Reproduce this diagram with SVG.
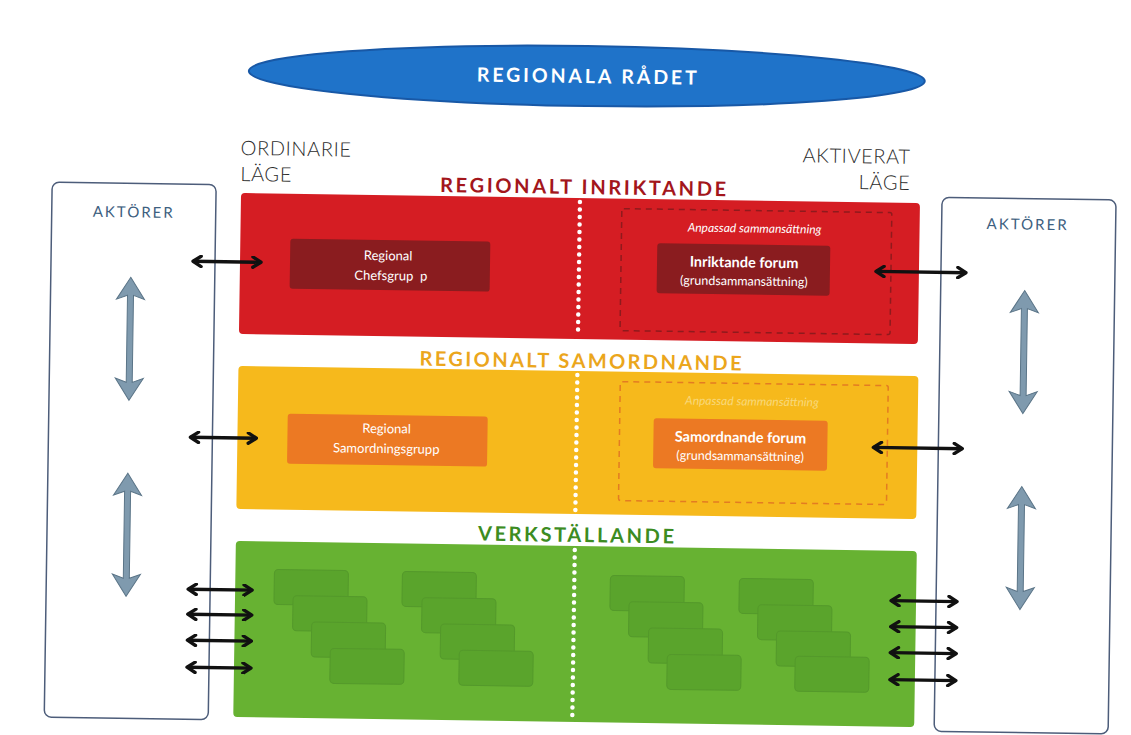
<svg xmlns="http://www.w3.org/2000/svg" width="1131" height="735" viewBox="0 0 1131 735">
<style>
text{font-family:Lato,"Open Sans","Liberation Sans",sans-serif}
.band-title{font-weight:bold;font-size:20px;text-anchor:middle}
.lage{font-size:20px;font-weight:300;fill:#2b2b2b;letter-spacing:0.6px}
.akt{font-size:15px;letter-spacing:2px;fill:#3d6080;text-anchor:middle}
.inner{font-size:13px;fill:#fff;text-anchor:middle}
.sub{font-size:12.5px}
.bold{font-weight:bold;font-size:14.5px}
.anp{font-size:12px;font-style:italic;text-anchor:middle}
.dots{stroke:#fff;stroke-width:4.5;stroke-dasharray:0 7.5;stroke-linecap:round;fill:none}
.harrow{stroke:#111;stroke-width:3.4;fill:none;marker-start:url(#chev);marker-end:url(#chev)}
.varrow{fill:#7f9aae;stroke:#5a7487;stroke-width:1}
.gr{fill:#5aa42c;stroke:#54992b;stroke-width:1}
.box{fill:#fff;stroke:#4d5d7a;stroke-width:1.5}
</style>
<defs>
<marker id="chev" viewBox="0 0 10 10" refX="8.5" refY="5" markerWidth="3.8" markerHeight="3.8" orient="auto-start-reverse" markerUnits="strokeWidth">
<path d="M2.2,1 L8.5,5 L2.2,9" fill="none" stroke="#111" stroke-width="2.6" stroke-linecap="round" stroke-linejoin="round"/>
</marker>
</defs>
<rect width="1131" height="735" fill="#fff"/>
<g transform="rotate(0.85 580 400)">
<g id="regionala-radet">
<ellipse cx="582" cy="76" rx="338" ry="30" fill="#1f73c9" stroke="#1858a6" stroke-width="2"/>
<text x="582" y="83" fill="#fff" font-weight="bold" font-size="19.5" text-anchor="middle" textLength="220" lengthAdjust="spacing">REGIONALA RÅDET</text>
</g>
<g id="labels">
<text class="lage" x="237" y="160">ORDINARIE</text>
<text class="lage" x="237" y="186">LÄGE</text>
<text class="lage" x="907" y="159" text-anchor="end">AKTIVERAT</text>
<text class="lage" x="907" y="185" text-anchor="end">LÄGE</text>
</g>
<g id="aktorer-left">
<rect class="box" x="49" y="190" width="164" height="535" rx="7"/>
<text class="akt" x="131" y="224">AKTÖRER</text>
</g>
<g id="aktorer-right">
<rect class="box" x="939" y="192" width="174" height="534" rx="7"/>
<text class="akt" x="1025" y="223">AKTÖRER</text>
</g>
<g id="inriktande">
<text class="band-title" x="580" y="194" fill="#a3161c" textLength="286" lengthAdjust="spacing">REGIONALT INRIKTANDE</text>
<rect x="238" y="198" width="679" height="141" rx="4" fill="#d51d23"/>
<line class="dots" x1="577" y1="202" x2="577" y2="337"/>
<rect x="619" y="208" width="270" height="122" rx="2" fill="none" stroke="#8f1a1d" stroke-width="1.5" stroke-dasharray="6 5"/>
<text class="anp" x="752" y="230" fill="#fff">Anpassad sammansättning</text>
</g>
<g id="chefsgrupp">
<rect x="288" y="243" width="200" height="50" rx="3" fill="#8a1c1f"/>
<text class="inner" x="386" y="263">Regional</text>
<text class="inner" x="389" y="283" xml:space="preserve">Chefsgrup  p</text>
</g>
<g id="inriktande-forum">
<rect x="655" y="242" width="173" height="50" rx="3" fill="#8a1c1f"/>
<text class="inner bold" x="742" y="265">Inriktande forum</text>
<text class="inner sub" x="742" y="283">(grundsammansättning)</text>
</g>
<g id="samordnande">
<text class="band-title" x="580" y="368" fill="#eba61c" textLength="322" lengthAdjust="spacing">REGIONALT SAMORDNANDE</text>
<rect x="238" y="371" width="680" height="143" rx="4" fill="#f6b91c"/>
<line class="dots" x1="577" y1="375" x2="577" y2="511"/>
<rect x="620" y="381" width="268" height="119" rx="2" fill="none" stroke="#e37c22" stroke-width="1.5" stroke-dasharray="6 5"/>
<text class="anp" x="752" y="403" fill="#f8d87a">Anpassad sammansättning</text>
</g>
<g id="samordningsgrupp">
<rect x="288" y="418" width="200" height="50" rx="3" fill="#ec7923"/>
<text class="inner" x="387" y="436">Regional</text>
<text class="inner" x="387" y="456">Samordningsgrupp</text>
</g>
<g id="samordnande-forum">
<rect x="654" y="417" width="174" height="50" rx="3" fill="#ec7923"/>
<text class="inner bold" x="741" y="440">Samordnande forum</text>
<text class="inner sub" x="741" y="458">(grundsammansättning)</text>
</g>
<g id="verkstallande">
<text class="band-title" x="578" y="542" fill="#3c8c22" textLength="196" lengthAdjust="spacing">VERKSTÄLLANDE</text>
<rect x="238" y="546" width="681" height="176" rx="4" fill="#67b232"/>
<line class="dots" x1="577" y1="550" x2="577" y2="719"/>
<g id="group-a">
<rect class="gr" x="277" y="574" width="74" height="35" rx="4"/>
<rect class="gr" x="296" y="600" width="74" height="35" rx="4"/>
<rect class="gr" x="315" y="626" width="74" height="35" rx="4"/>
<rect class="gr" x="334" y="652" width="74" height="35" rx="4"/>
</g>
<g id="group-b">
<rect class="gr" x="405" y="574" width="74" height="35" rx="4"/>
<rect class="gr" x="425" y="600" width="74" height="35" rx="4"/>
<rect class="gr" x="444" y="626" width="74" height="35" rx="4"/>
<rect class="gr" x="463" y="652" width="74" height="35" rx="4"/>
</g>
<g id="group-c">
<rect class="gr" x="613" y="575" width="74" height="35" rx="4"/>
<rect class="gr" x="632" y="601" width="74" height="35" rx="4"/>
<rect class="gr" x="652" y="627" width="74" height="35" rx="4"/>
<rect class="gr" x="671" y="653" width="74" height="35" rx="4"/>
</g>
<g id="group-d">
<rect class="gr" x="742" y="576" width="74" height="35" rx="4"/>
<rect class="gr" x="761" y="602" width="74" height="35" rx="4"/>
<rect class="gr" x="780" y="628" width="74" height="35" rx="4"/>
<rect class="gr" x="799" y="653" width="74" height="35" rx="4"/>
</g>
</g>
<g id="connectors">
<line class="harrow" x1="191" y1="267" x2="259" y2="267"/>
<line class="harrow" x1="874" y1="267" x2="964" y2="267"/>
<line class="harrow" x1="191" y1="443" x2="257" y2="443"/>
<line class="harrow" x1="874" y1="443" x2="963" y2="443"/>
<line class="harrow" x1="191" y1="595" x2="255" y2="595"/>
<line class="harrow" x1="191" y1="620" x2="255" y2="620"/>
<line class="harrow" x1="191" y1="646" x2="255" y2="646"/>
<line class="harrow" x1="191" y1="673" x2="255" y2="673"/>
<line class="harrow" x1="894" y1="596" x2="960" y2="596"/>
<line class="harrow" x1="894" y1="622" x2="960" y2="622"/>
<line class="harrow" x1="894" y1="648" x2="960" y2="648"/>
<line class="harrow" x1="894" y1="675" x2="960" y2="675"/>
<path class="varrow" d="M129,284 L143,306 L132,302 L132,389 L143,385 L129,407 L115,385 L126,389 L126,302 L115,306 Z"/>
<path class="varrow" d="M129,480 L143,502 L132,498 L132,585 L143,581 L129,603 L115,581 L126,585 L126,498 L115,502 Z"/>
<path class="varrow" d="M1023,284 L1037,306 L1026,302 L1026,389 L1037,385 L1023,407 L1009,385 L1020,389 L1020,302 L1009,306 Z"/>
<path class="varrow" d="M1023,480 L1037,502 L1026,498 L1026,585 L1037,581 L1023,603 L1009,581 L1020,585 L1020,498 L1009,502 Z"/>
</g>
</g>
</svg>
